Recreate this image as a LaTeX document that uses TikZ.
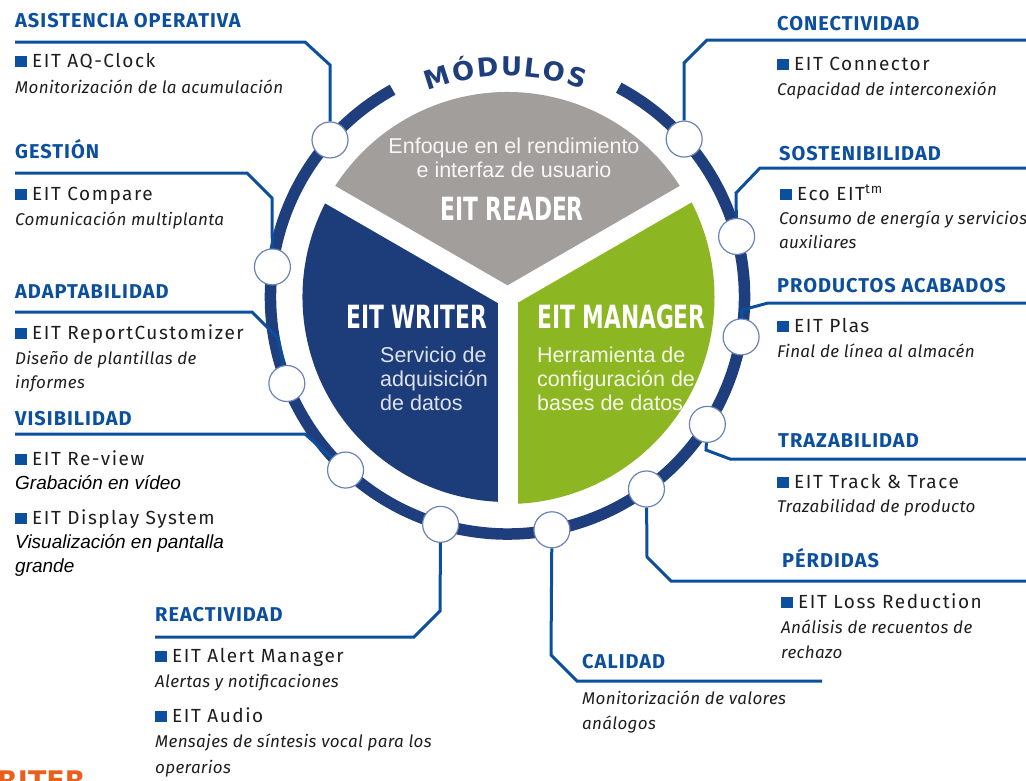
\documentclass[tikz,border=0pt]{standalone}
\usepackage{graphicx}
\usepackage{fontspec}
\setmainfont{Fira Sans}
\newfontfamily\hdfont[LetterSpace=5]{Fira Sans}
\newfontfamily\itmfont[LetterSpace=8]{Fira Sans}
\newfontfamily\dscfont[LetterSpace=2]{Fira Sans}
\newfontfamily\arialf{Liberation Sans}
\newfontfamily\djf{DejaVu Sans}
\usetikzlibrary{calc}
\definecolor{hblue}{HTML}{0B4F9E}
\definecolor{ringblue}{HTML}{1F3E7D}
\definecolor{wblue}{HTML}{1D3C7A}
\definecolor{rgray}{HTML}{A29E9C}
\definecolor{mgreen}{HTML}{8DB722}
\definecolor{ink}{HTML}{1E1E1E}
\definecolor{knobline}{HTML}{6B82B5}
\definecolor{orng}{HTML}{E8601C}
\newcommand{\bsq}{\textcolor{hblue}{\rule{11.5pt}{11.5pt}}\hspace{5.5pt}}
\newcommand{\cond}[1]{\scalebox{0.68}[1]{#1}}
\tikzset{
  hdr/.style={anchor=base west, inner sep=0pt, text=hblue, font=\hdfont\bfseries\fontsize{20}{24}\selectfont},
  itm/.style={anchor=base west, inner sep=0pt, text=ink, font=\itmfont\fontsize{19}{22}\selectfont},
  dsc/.style={anchor=base west, inner sep=0pt, text=ink, font=\dscfont\itshape\fontsize{17}{22}\selectfont},
  dsa/.style={anchor=base west, inner sep=0pt, text=black, font=\arialf\itshape\fontsize{19}{22}\selectfont},
  conn/.style={draw=hblue, line width=3pt},
  knob/.style={circle, fill=white, draw=knobline, line width=1.2pt, minimum size=36pt, inner sep=0pt},
  inw/.style={inner sep=0pt, font=\arialf\fontsize{21.5}{24}\selectfont},
  big/.style={inner sep=0pt, text=white, font=\djf\bfseries\fontsize{32}{34}\selectfont},
  modl/.style={inner sep=0pt, text=ringblue, font=\djf\bfseries\fontsize{26}{28}\selectfont},
}
\begin{document}
\begin{tikzpicture}[x=1pt,y=-1pt]
\useasboundingbox (0,0) rectangle (1026,780);
\clip (0,0) rectangle (1026,780);
\coordinate (C) at (507.5,297);

% pie sectors
\fill[rgray] (C) -- ($(C)+(30:205pt)$) arc[start angle=30,end angle=150,radius=205pt] -- cycle;
\fill[wblue] (C) -- ($(C)+(150:205pt)$) arc[start angle=150,end angle=270,radius=205pt] -- cycle;
\fill[mgreen] (C) -- ($(C)+(270:207pt)$) arc[start angle=270,end angle=390,radius=207pt] -- cycle;
\draw[white, line width=20pt] (C) -- ($(C)+(30:215pt)$);
\draw[white, line width=20pt] (C) -- ($(C)+(150:215pt)$);
\draw[white, line width=20pt] (C) -- ($(C)+(270:215pt)$);

% ring
\draw[ringblue, line width=11.5pt] ($(C)+(119:237pt)$) arc[start angle=119,end angle=422,radius=237pt];

% MODULOS
\foreach \l/\a [count=\i] in {M/107.7, Ó/101.1, D/94.95, U/88.95, L/83.6, O/78.2, S/72.4}
  \node[modl, anchor=base, rotate=\a-90] (mod\i) at ($(C)+(\a:221pt)$) {\l};

% knobs
\foreach \n/\a in {1/138.5, 2/172.7, 3/201.4, 4/226.9, 5/253.6, 6/280.8, 7/305.9, 8/327.5, 9/350.3, 10/14.8, 11/41.8}
  \node[knob] (k\n) at ($(C)+(\a:237pt)$) {};

% connectors
\coordinate (e1) at (15,42);
\draw[conn] (e1) -- (305,42) -- (330,65) -- (k1);
\coordinate (e2) at (15,173);
\draw[conn] (e2) -- (247,173) -- (272,198) -- (k2);
\coordinate (e3) at (15,312);
\draw[conn] (e3) -- (252,312) -- (278,338) -- (k3);
\coordinate (e4) at (15,434);
\draw[conn] (e4) -- (305,434) -- (k4);
\coordinate (e5) at (155,637);
\draw[conn] (e5) -- (414,637) -- (440,611) -- (k5);
\coordinate (e6) at (822,681);
\draw[conn] (e6) -- (577,681) -- (551,655) -- (k6);
\coordinate (e7) at (1026,581);
\draw[conn] (e7) -- (671,581) -- (647,557) -- (k7);
\coordinate (e8) at (1026,459);
\draw[conn] (e8) -- (730,459) -- (706,450) -- (k8);
\coordinate (e9) at (1026,303);
\draw[conn] (e9) -- (768,303) -- (742,310) -- (k9);
\coordinate (e10) at (1026,168);
\draw[conn] (e10) -- (760,168) -- (736,193) -- (k10);
\coordinate (e11) at (1026,40);
\draw[conn] (e11) -- (707,40) -- (684,63) -- (k11);

% inner texts
\node[inw, text=white!92!rgray, anchor=base] (g1) at (514,153) {Enfoque en el rendimiento};
\node[inw, text=white!92!rgray, anchor=base] (g2) at (514,177) {e interfaz de usuario};
\node[big, anchor=base] (g3) at (512,220) {\cond{EIT READER}};
\node[big, anchor=base west] (b1) at (346,328) {\cond{EIT WRITER}};
\node[inw, text=white!85!wblue, anchor=base west] (b2) at (380,362) {Servicio de};
\node[inw, text=white!85!wblue, anchor=base west] (b3) at (380,386) {adquisición};
\node[inw, text=white!85!wblue, anchor=base west] (b4) at (380,410) {de datos};
\node[big, anchor=base west] (m1) at (537,328) {\cond{EIT MANAGER}};
\node[inw, text=white!90!mgreen, anchor=base west] (m2) at (537,362) {Herramienta de};
\node[inw, text=white!90!mgreen, anchor=base west] (m3) at (537,386) {configuración de};
\node[inw, text=white!90!mgreen, anchor=base west] (m4) at (537,410) {bases de datos};

% left column
\node[hdr] (h1) at (15,27) {ASISTENCIA OPERATIVA};
\node[itm] (i1) at (15,67) {\bsq EIT AQ-Clock};
\node[dsc] (d1) at (15,93) {Monitorización de la acumulación};

\node[hdr] (h2) at (15,158) {GESTIÓN};
\node[itm] (i2) at (15,200) {\bsq EIT Compare};
\node[dsc] (d2) at (15,225) {Comunicación multiplanta};

\node[hdr] (h3) at (15,298) {ADAPTABILIDAD};
\node[itm] (i3) at (15,339) {\bsq EIT ReportCustomizer};
\node[dsc] (d3a) at (15,364) {Diseño de plantillas de};
\node[dsc] (d3b) at (15,388) {informes};

\node[hdr] (h4) at (15,425) {VISIBILIDAD};
\node[itm] (i4) at (15,465) {\bsq EIT Re-view};
\node[dsa] (d4) at (15,489) {Grabación en vídeo};
\node[itm] (i4b) at (15,524) {\bsq EIT Display System};
\node[dsa] (d4b) at (15,548) {Visualización en pantalla};
\node[dsa] (d4c) at (15,572) {grande};

% bottom left
\node[hdr] (h5) at (155,621) {REACTIVIDAD};
\node[itm] (i5) at (155,662) {\bsq EIT Alert Manager};
\node[dsc] (d5) at (155,687) {Alertas y notificaciones};
\node[itm] (i5b) at (155,722) {\bsq EIT Audio};
\node[dsc] (d5b) at (155,747) {Mensajes de síntesis vocal para los};
\node[dsc] (d5c) at (155,773) {operarios};

% bottom middle
\node[hdr] (h6) at (582,668) {CALIDAD};
\node[dsc] (d6a) at (582,704) {Monitorización de valores};
\node[dsc] (d6b) at (582,729) {análogos};

% right column
\node[hdr] (h11) at (777,30) {CONECTIVIDAD};
\node[itm] (i11) at (777,70) {\bsq EIT Connector};
\node[dsc] (d11) at (777,95) {Capacidad de interconexión};

\node[hdr] (h10) at (779,160) {SOSTENIBILIDAD};
\node[itm] (i10) at (780,200) {\bsq Eco EIT\textsuperscript{tm}};
\node[dsc] (d10a) at (779,224) {Consumo de energía y servicios};
\node[dsc] (d10b) at (779,248) {auxiliares};

\node[hdr] (h9) at (777,292) {PRODUCTOS ACABADOS};
\node[itm] (i9) at (777,332) {\bsq EIT Plas};
\node[dsc] (d9) at (777,357) {Final de línea al almacén};

\node[hdr] (h8) at (778,447) {TRAZABILIDAD};
\node[itm] (i8) at (777,488) {\bsq EIT Track \& Trace};
\node[dsc] (d8) at (777,512) {Trazabilidad de producto};

\node[hdr] (h7) at (782,567) {PÉRDIDAS};
\node[itm] (i7) at (781,608) {\bsq EIT Loss Reduction};
\node[dsc] (d7a) at (781,633) {Análisis de recuentos de};
\node[dsc] (d7b) at (781,658) {rechazo};

% cut-off orange title
\node[anchor=north west, inner sep=0pt, text=orng, font=\djf\bfseries\fontsize{27}{30}\selectfont] (rt) at (-3,771) {RITER};
\end{tikzpicture}
\end{document}
